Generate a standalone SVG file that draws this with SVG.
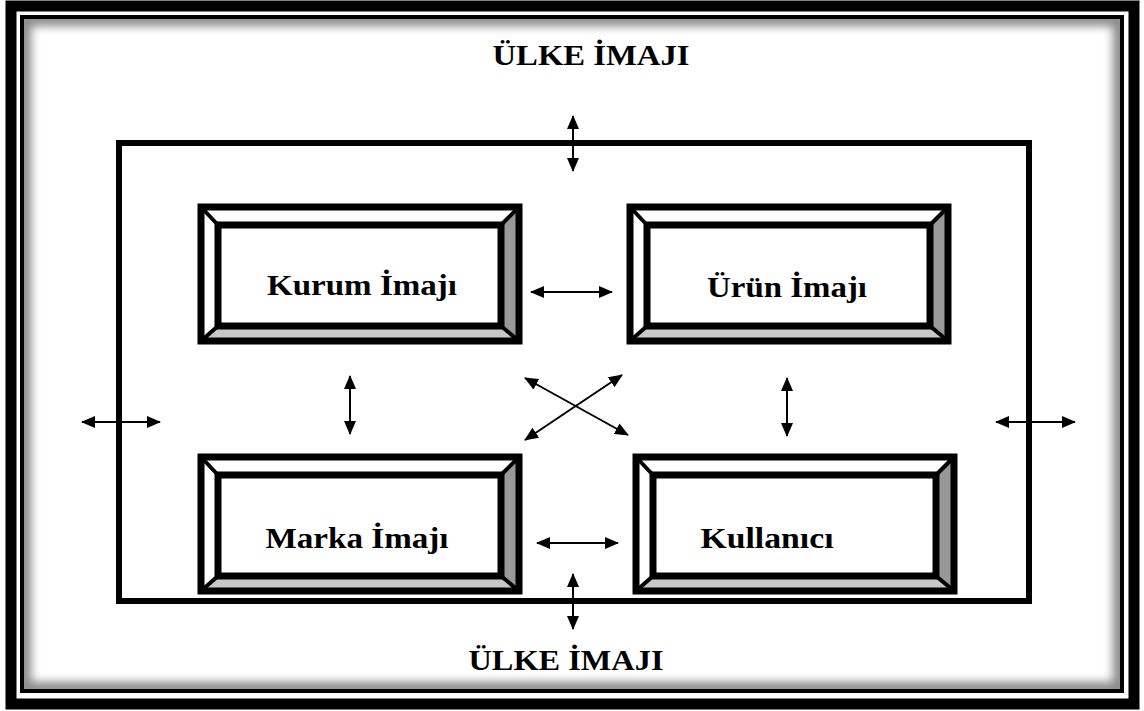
<svg xmlns="http://www.w3.org/2000/svg" width="1144" height="711" viewBox="0 0 1144 711">
<style>
.lbl{font-family:"Liberation Serif","Times New Roman",serif;font-weight:bold;font-size:30px;fill:#000;text-anchor:middle}
.ol{fill:none;stroke:#000;stroke-width:7}
.dg{stroke:#000;stroke-width:4}
.bw{fill:#fff}
.br{fill:#999}
.bb{fill:#c8c8c8}
.arr{stroke:#000;stroke-width:2;fill:none;marker-start:url(#ah);marker-end:url(#ah)}
</style>
<defs>
<marker id="ah" viewBox="0 0 14 12" refX="13" refY="6" markerWidth="14" markerHeight="12" markerUnits="userSpaceOnUse" orient="auto-start-reverse">
<path d="M0,0 L14,6 L0,12 Z" fill="#000"/>
</marker>
<clipPath id="inner"><rect x="24" y="19" width="1096" height="670"/></clipPath>
<filter id="blur" x="-5%" y="-5%" width="110%" height="110%"><feGaussianBlur stdDeviation="5"/></filter>
<g id="bevel">
<path class="bw" d="M0,0 H318 L300,18 H17 Z"/>
<path class="bw" d="M0,0 L17,18 V119 L0,134 Z"/>
<path class="br" d="M318,0 V134 L300,119 V18 Z"/>
<path class="bb" d="M0,134 H318 L300,119 H17 Z"/>
<line class="dg" x1="0" y1="0" x2="17" y2="18"/>
<line class="dg" x1="318" y1="0" x2="300" y2="18"/>
<line class="dg" x1="0" y1="134" x2="17" y2="119"/>
<line class="dg" x1="318" y1="134" x2="300" y2="119"/>
<rect class="ol" x="0" y="0" width="318" height="134"/>
<rect class="ol" x="17" y="18" width="283" height="101"/>
</g>
</defs>
<rect width="1144" height="711" fill="#fff"/>
<g id="frame">
<g clip-path="url(#inner)">
<rect x="24" y="19" width="1096" height="670" fill="none" stroke="#888" stroke-width="14" filter="url(#blur)"/>
</g>
<rect x="11" y="6" width="1123" height="698" fill="none" stroke="#000" stroke-width="11"/>
<rect x="22" y="17" width="1100" height="674" fill="none" stroke="#000" stroke-width="4"/>
</g>
<g id="main">
<rect x="119" y="143" width="910" height="458" fill="none" stroke="#000" stroke-width="6"/>
</g>
<g id="kurum">
<use href="#bevel" transform="translate(201,207)"/>
<text class="lbl" x="362" y="295" textLength="190" lengthAdjust="spacingAndGlyphs">Kurum İmajı</text>
</g>
<g id="urun">
<use href="#bevel" transform="translate(630,207)"/>
<text class="lbl" x="787" y="297" textLength="160" lengthAdjust="spacingAndGlyphs">Ürün İmajı</text>
</g>
<g id="marka">
<use href="#bevel" transform="translate(201,457)"/>
<text class="lbl" x="357" y="548" textLength="183" lengthAdjust="spacingAndGlyphs">Marka İmajı</text>
</g>
<g id="kullanici">
<use href="#bevel" transform="translate(636,457)"/>
<text class="lbl" x="767" y="548" textLength="133" lengthAdjust="spacingAndGlyphs">Kullanıcı</text>
</g>
<g id="ulke-top">
<text class="lbl" x="591" y="65" textLength="197" lengthAdjust="spacingAndGlyphs">ÜLKE İMAJI</text>
</g>
<g id="ulke-bottom">
<text class="lbl" x="566" y="670" textLength="195" lengthAdjust="spacingAndGlyphs">ÜLKE İMAJI</text>
</g>
<g id="connectors">
<line class="arr" x1="573" y1="116" x2="573" y2="171"/>
<line class="arr" x1="573" y1="574" x2="573" y2="629"/>
<line class="arr" x1="531" y1="292" x2="612" y2="292"/>
<line class="arr" x1="537" y1="543" x2="618" y2="543"/>
<line class="arr" x1="350" y1="376" x2="350" y2="434"/>
<line class="arr" x1="787" y1="378" x2="787" y2="436"/>
<line class="arr" x1="82" y1="422" x2="160" y2="422"/>
<line class="arr" x1="996" y1="422" x2="1075" y2="422"/>
<line class="arr" x1="525" y1="378" x2="628" y2="435"/>
<line class="arr" x1="622" y1="375" x2="525" y2="440"/>
</g>
</svg>
